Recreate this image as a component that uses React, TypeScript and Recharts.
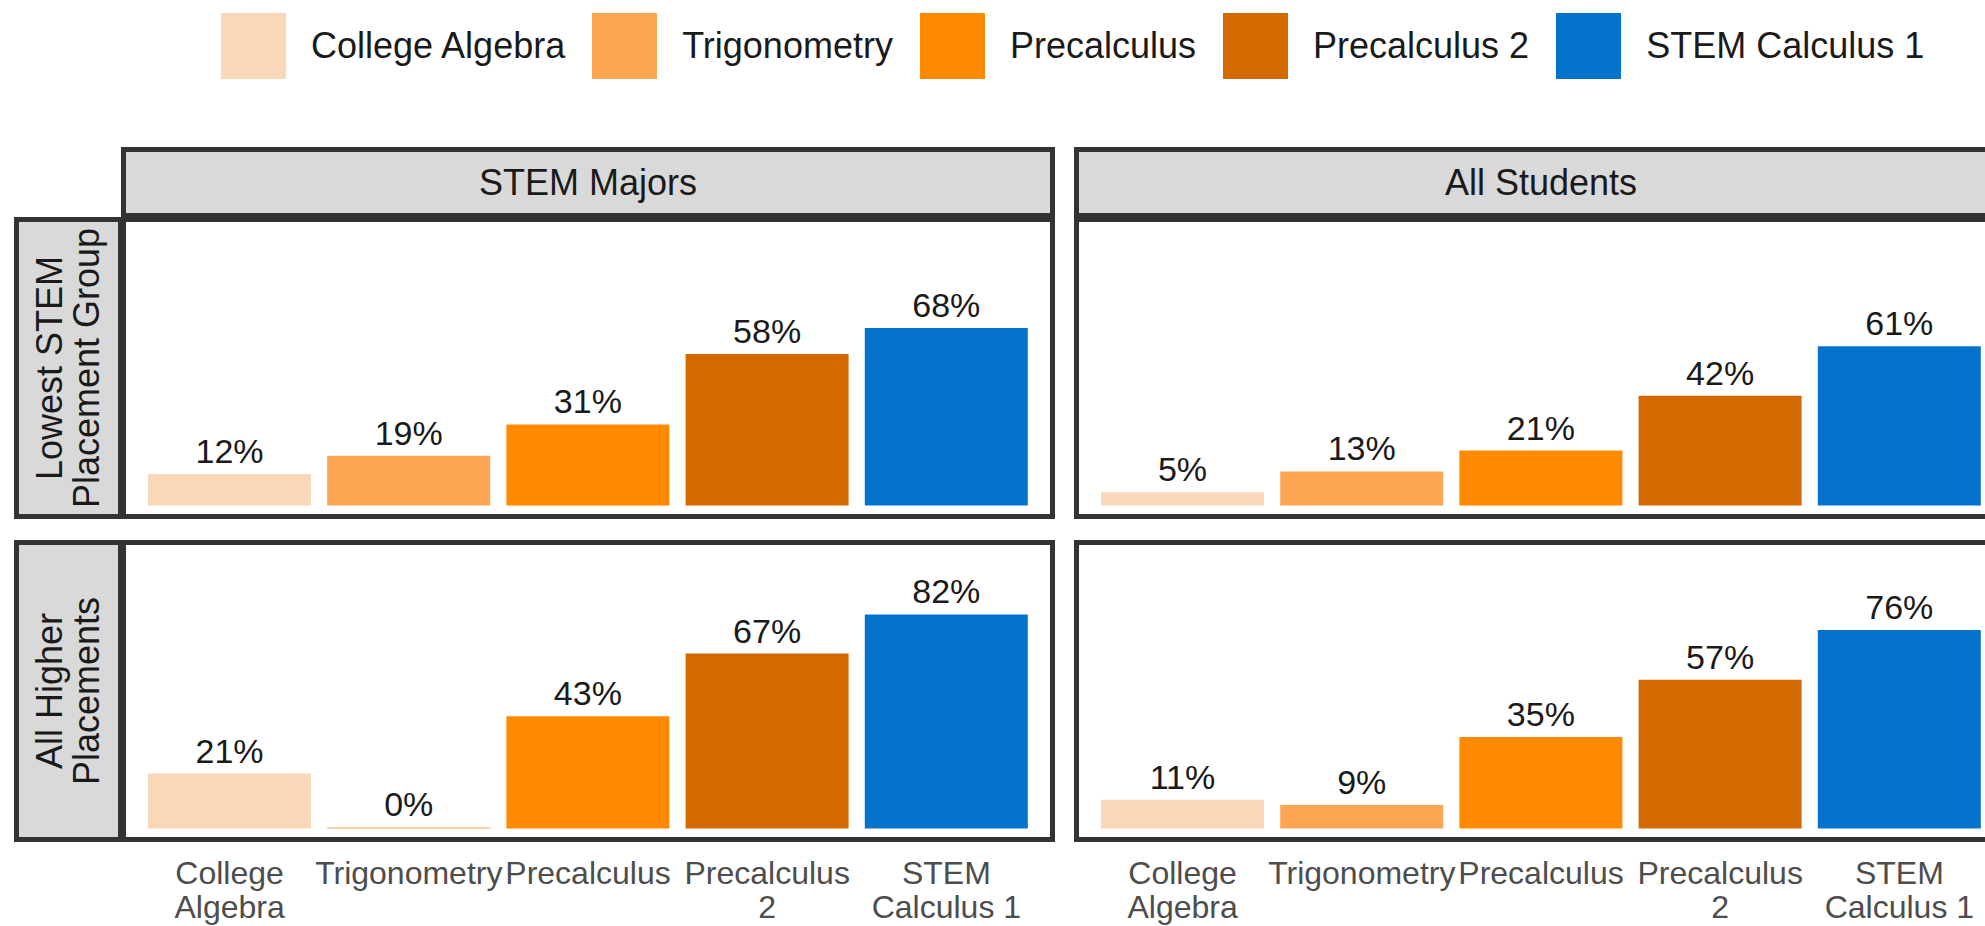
import React from "react";
import { BarChart, Bar, XAxis, YAxis, Cell, LabelList } from "recharts";

const categories = ["College Algebra", "Trigonometry", "Precalculus", "Precalculus 2", "STEM Calculus 1"];
const tickLabels = [["College", "Algebra"], ["Trigonometry"], ["Precalculus"], ["Precalculus", "2"], ["STEM", "Calculus 1"]];
const colors = ["#f9d7b8", "#fca654", "#ff8a00", "#d36900", "#0573cb"];

const colLabels = ["STEM Majors", "All Students"];
const rowLabels = [["Lowest STEM", "Placement Group"], ["All Higher", "Placements"]];

const stemLowest = [12, 19, 31, 58, 68];
const allLowest = [5, 13, 21, 42, 61];
const stemHigher = [21, 0, 43, 67, 82];
const allHigher = [11, 9, 35, 57, 76];

const panelValues = [
  [stemLowest, allLowest],
  [stemHigher, allHigher],
];

const FONT = '"Liberation Sans", Arial, Helvetica, sans-serif';
const BORDER = "#333333";
const STRIP = "#d9d9d9";

const colX = [121, 1074];
const rowY = [217, 540];
const PANEL_W = 934;
const PANEL_H = 302;
const BW = 5;
const INNER_W = PANEL_W - 2 * BW;
const INNER_H = PANEL_H - 2 * BW;
const AXIS_H = 89;

const CatTick = (props: any) => {
  const { x, y, payload } = props;
  const idx = categories.indexOf(payload.value);
  const lines = idx >= 0 ? tickLabels[idx] : [String(payload.value)];
  return (
    <text x={x} y={y} textAnchor="middle" fill="#4d4d4d" fontSize={32} fontFamily={FONT}>
      {lines.map((l, i) => (
        <tspan key={i} x={x} dy={i === 0 ? 47 : 34}>
          {l}
        </tspan>
      ))}
    </text>
  );
};

function Panel({ values, showAxis, left, top }: { values: number[]; showAxis: boolean; left: number; top: number }) {
  const data = categories.map((c, i) => ({ cat: c, value: values[i] }));
  const h = showAxis ? INNER_H + AXIS_H : INNER_H;
  return (
    <div style={{ position: "absolute", left, top, width: INNER_W, height: h }}>
      <BarChart width={INNER_W} height={h} data={data} margin={{ top: 0, right: 0, bottom: 0, left: 0 }} barSize={163}>
        <XAxis
          dataKey="cat"
          hide={!showAxis}
          height={AXIS_H}
          interval={0}
          tickLine={false}
          axisLine={false}
          tickSize={0}
          tickMargin={0}
          padding={{ left: 14, right: 14 }}
          tick={<CatTick />}
        />
        <YAxis hide type="number" domain={[-3.3, 108.6]} allowDataOverflow />
        <Bar dataKey="value" isAnimationActive={false} minPointSize={1}>
          {data.map((d, i) => (
            <Cell key={i} fill={colors[i]} />
          ))}
          <LabelList
            dataKey="value"
            position="top"
            offset={11}
            formatter={(v: any) => `${v}%`}
            fill="#1a1a1a"
            fontSize={34}
            fontFamily={FONT}
          />
        </Bar>
      </BarChart>
    </div>
  );
}

export default function App() {
  return (
    <div
      style={{
        position: "absolute",
        left: 0,
        top: 0,
        width: 1985,
        height: 926,
        overflow: "hidden",
        background: "#ffffff",
        fontFamily: FONT,
      }}
    >
      {/* Legend */}
      <div style={{ position: "absolute", left: 221, top: 13, height: 66, display: "flex", alignItems: "center" }}>
        {categories.map((c, i) => (
          <div key={c} style={{ display: "flex", alignItems: "center", marginRight: 27 }}>
            <div style={{ width: 65, height: 66, background: colors[i] }} />
            <span style={{ marginLeft: 25, fontSize: 36, color: "#1a1a1a", whiteSpace: "nowrap" }}>{c}</span>
          </div>
        ))}
      </div>

      {/* Strips and panel borders */}
      <svg width={2100} height={926} style={{ position: "absolute", left: 0, top: 0 }}>
        {rowY.map((y0, r) => (
          <g key={"row" + r}>
            <rect x={14 + BW / 2} y={y0 + BW / 2} width={109 - BW} height={PANEL_H - BW} fill={STRIP} stroke={BORDER} strokeWidth={BW} />
            {rowLabels[r].map((line, li) => (
              <text
                key={li}
                transform={`translate(${li === 0 ? 62 : 99}, ${y0 + PANEL_H / 2}) rotate(-90)`}
                textAnchor="middle"
                fontSize={36}
                fill="#1a1a1a"
                fontFamily={FONT}
              >
                {line}
              </text>
            ))}
          </g>
        ))}
        {colX.map((x0, c) => (
          <g key={"col" + c}>
            <rect x={x0 + BW / 2} y={147 + BW / 2} width={PANEL_W - BW} height={71 - BW} fill={STRIP} stroke={BORDER} strokeWidth={BW} />
            <text x={x0 + PANEL_W / 2} y={195} textAnchor="middle" fontSize={36} fill="#1a1a1a" fontFamily={FONT}>
              {colLabels[c]}
            </text>
            {rowY.map((y0, r) => (
              <rect
                key={r}
                x={x0 + BW / 2}
                y={y0 + BW / 2}
                width={PANEL_W - BW}
                height={PANEL_H - BW}
                fill="#ffffff"
                stroke={BORDER}
                strokeWidth={BW}
              />
            ))}
          </g>
        ))}
      </svg>

      {/* Panels */}
      {rowY.map((y0, r) =>
        colX.map((x0, c) => (
          <Panel key={r + "-" + c} values={panelValues[r][c]} showAxis={r === 1} left={x0 + BW} top={y0 + BW} />
        ))
      )}
    </div>
  );
}
